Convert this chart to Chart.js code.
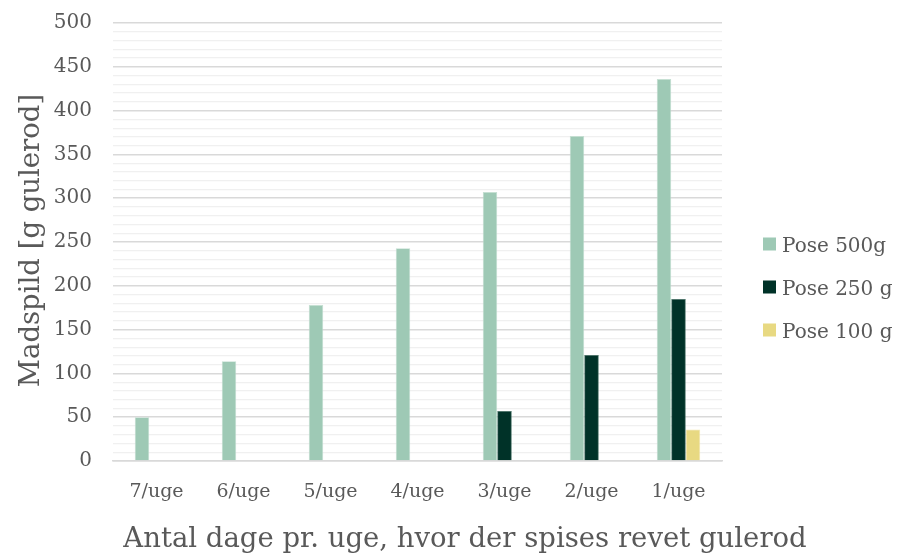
<!DOCTYPE html>
<html>
<head>
<meta charset="utf-8">
<script src="https://cdn.jsdelivr.net/npm/chart.js@4/dist/chart.umd.min.js"></script>
<style>
  html, body { margin: 0; padding: 0; background: #ffffff; }
  #wrap { width: 898px; height: 553px; }
</style>
</head>
<body>
<div id="wrap"><canvas id="c" width="898" height="553"></canvas></div>
<script>
// Food waste (grams of carrot) by how many days a week grated carrot is eaten
const categories = ['7/uge', '6/uge', '5/uge', '4/uge', '3/uge', '2/uge', '1/uge'];
const seriesNames = ['Pose 500g', 'Pose 250 g', 'Pose 100 g'];
const pose500 = [50, 114, 178, 243, 307, 371, 436];
const pose250 = [null, null, null, null, 57, 121, 185];
const pose100 = [null, null, null, null, null, null, 36];
const yTickMax = 500;
const yMajorStep = 50;
const yMinorStep = 10;
const xTitle = 'Antal dage pr. uge, hvor der spises revet gulerod';
const yTitle = 'Madspild [g gulerod]';

const FONT = "'DejaVu Serif', 'Liberation Serif', serif";
const TEXT = '#595959';
const seriesColors = ['#9ec9b5', '#003228', '#e8d982'];
const seriesEdges = ['#c5e0d3', '#3e6a5e', '#f2e8b0'];

// Axis titles and the legend, drawn on the canvas after the chart
const decorations = {
  id: 'decorations',
  afterDraw(chart) {
    const { ctx, chartArea } = chart;
    ctx.save();
    ctx.fillStyle = TEXT;
    ctx.font = `27.5px ${FONT}`;
    ctx.textAlign = 'center';
    ctx.textBaseline = 'alphabetic';
    ctx.fillText(xTitle, 465, 547);

    ctx.save();
    ctx.translate(39, (chartArea.top + chartArea.bottom) / 2 - 1.5);
    ctx.rotate(-Math.PI / 2);
    ctx.fillText(yTitle, 0, 0);
    ctx.restore();

    // legend
    const boxX = chartArea.right + 41;
    const rowY = [244, 287, 330];
    ctx.font = `20px ${FONT}`;
    ctx.textAlign = 'left';
    chart.data.datasets.forEach((ds, i) => {
      const cy = rowY[i];
      ctx.fillStyle = ds.backgroundColor;
      ctx.fillRect(boxX, cy - 6.5, 13, 13);
      ctx.fillStyle = TEXT;
      ctx.fillText(ds.label, boxX + 19, cy + 7.5);
    });
    ctx.restore();
  }
};

new Chart(document.getElementById('c'), {
  type: 'bar',
  data: {
    labels: categories,
    datasets: [
      { label: seriesNames[0], data: pose500, backgroundColor: seriesColors[0], borderColor: seriesEdges[0], borderWidth: 0.8 },
      { label: seriesNames[1], data: pose250, backgroundColor: seriesColors[1], borderColor: seriesEdges[1], borderWidth: 0.8 },
      { label: seriesNames[2], data: pose100, backgroundColor: seriesColors[2], borderColor: seriesEdges[2], borderWidth: 0.8 }
    ]
  },
  options: {
    responsive: false,
    animation: false,
    devicePixelRatio: 1,
    categoryPercentage: 0.5,
    barPercentage: 1.0,
    layout: { padding: { top: 23, right: 176, left: 0, bottom: 0 } },
    plugins: {
      legend: { display: false },
      tooltip: { enabled: false }
    },
    scales: {
      x: {
        grid: { display: false, drawTicks: false },
        border: { display: true, color: '#d9d9d9', width: 1.5 },
        ticks: { color: TEXT, padding: 20, font: { family: FONT, size: 19 } },
        afterFit: scale => {
          scale.height = 92;
          scale.paddingLeft = 0;
          scale.paddingRight = 0;
        }
      },
      y: {
        min: 0,
        max: yTickMax,
        grid: {
          drawTicks: false,
          color: ctx => (ctx.tick && ctx.tick.value % yMajorStep === 0) ? '#d9d9d9' : '#f0f0f0',
          lineWidth: ctx => (ctx.tick && ctx.tick.value % yMajorStep === 0) ? 1.5 : 1.2
        },
        border: { display: false },
        ticks: {
          stepSize: yMinorStep,
          autoSkip: false,
          padding: 21,
          color: TEXT,
          font: { family: FONT, size: 20 },
          callback: v => (v % yMajorStep === 0 ? String(v) : '')
        },
        afterFit: scale => {
          scale.width = 113;
          scale.paddingTop = 0;
          scale.paddingBottom = 0;
        }
      }
    }
  },
  plugins: [decorations]
});
</script>
</body>
</html>
